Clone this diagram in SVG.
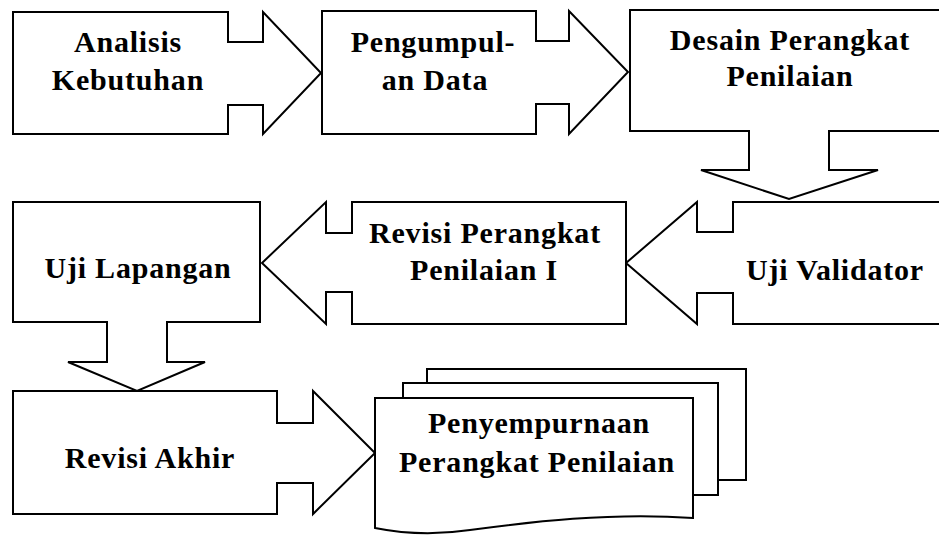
<svg xmlns="http://www.w3.org/2000/svg" width="939" height="537" viewBox="0 0 939 537">
<style>
.s{fill:#fff;stroke:#000;stroke-width:2;stroke-linejoin:miter}
.t{font-family:'Liberation Serif','Times New Roman',serif;font-weight:700;font-size:30px;letter-spacing:0.8px;text-anchor:middle;fill:#000}
</style>
<rect width="939" height="537" fill="#fff"/>
<g id="connectors"></g>
<g id="n1">
<path class="s" d="M13,12 H228 V42 H263 V12 L321,73 L263,134 V105 H228 V134 H13 Z"/>
<text class="t" x="128" y="52">Analisis</text>
<text class="t" x="128" y="90">Kebutuhan</text>
</g>
<g id="n2">
<path class="s" d="M322,11 H536 V41 H569 V11 L628,72 L569,134 V104 H536 V134 H322 Z"/>
<text class="t" x="433" y="52">Pengumpul-</text>
<text class="t" x="435" y="90">an Data</text>
</g>
<g id="n4">
<path class="s" d="M950,202 H733 V232 H697 V202 L626,263 L697,324 V293 H733 V324 H950 Z"/>
<text class="t" x="835" y="280">Uji Validator</text>
</g>
<g id="n3">
<path class="s" d="M630,10 H950 V131 H829 V170 H878 L789,199 L701,170 H749 V131 H630 Z"/>
<text class="t" x="790" y="50">Desain Perangkat</text>
<text class="t" x="790" y="86">Penilaian</text>
</g>
<g id="n5">
<path class="s" d="M626,202 H352 V233 H326 V202 L262,263 L326,324 V292 H352 V324 H626 Z"/>
<text class="t" x="485" y="243">Revisi Perangkat</text>
<text class="t" x="484" y="280">Penilaian I</text>
</g>
<g id="n7">
<path class="s" d="M13,391 H277 V423 H313 V391 L375,453 L313,514 V483 H277 V514 H13 Z"/>
<text class="t" x="150" y="468">Revisi Akhir</text>
</g>
<g id="n6">
<path class="s" d="M13,202 H260 V322 H167 V362 H205 L137,391 L68,362 H107 V322 H13 Z"/>
<text class="t" x="138" y="278">Uji Lapangan</text>
</g>
<g id="n8">
<rect class="s" x="427" y="369" width="319" height="111"/>
<rect class="s" x="403" y="383" width="315" height="112"/>
<path class="s" d="M375,398 H693 V518 C610,512 530,522 470,530 C430,536 400,533 375,528 Z"/>
<text class="t" x="539" y="433">Penyempurnaan</text>
<text class="t" x="537" y="472">Perangkat Penilaian</text>
</g>
</svg>
